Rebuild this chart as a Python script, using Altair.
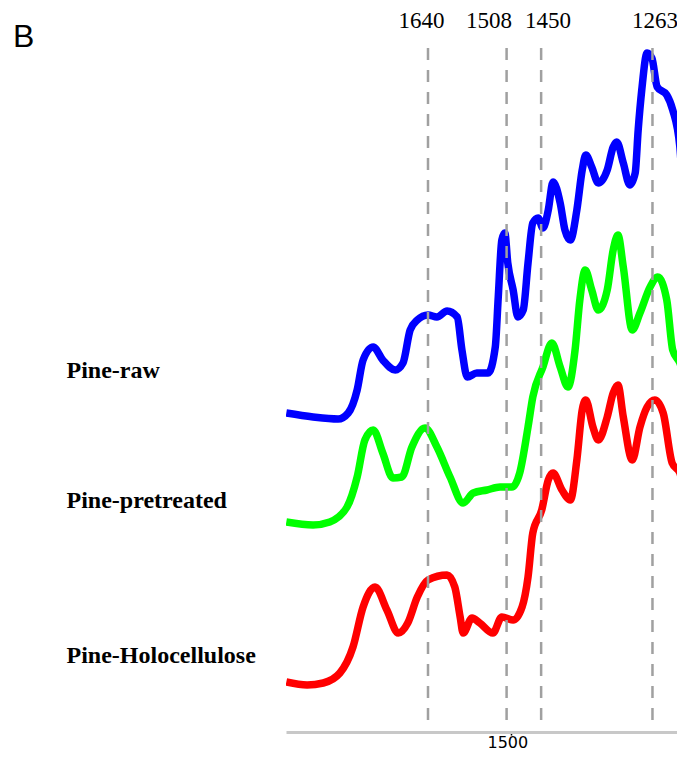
import altair as alt
import pandas as pd

# ---- data (wavenumber cm-1, relative absorbance) ----
sample_names = ["Pine-raw", "Pine-pretreated", "Pine-Holocellulose"]
sample_colors = ["#0000ff", "#00ff00", "#ff0000"]

wn_raw = [1878, 1833, 1791, 1774, 1759, 1749, 1732, 1716, 1695, 1682, 1670, 1658, 1640, 1625,
          1608, 1591, 1583, 1574, 1558, 1539, 1527, 1522, 1516, 1511, 1506, 1497, 1489, 1480,
          1472, 1464, 1455, 1447, 1438, 1430, 1418, 1410, 1401, 1390, 1381, 1375, 1365, 1354,
          1339, 1329, 1323, 1312, 1301, 1292, 1287, 1281, 1272, 1264, 1255, 1239, 1229, 1217,
          1208, 1200]
ab_raw = [3.23, 3.19, 3.17, 3.23, 3.46, 3.76, 3.89, 3.76, 3.66, 3.73, 4.06, 4.16, 4.21, 4.19,
          4.25, 4.19, 3.86, 3.59, 3.63, 3.63, 3.89, 4.39, 4.96, 5.03, 4.73, 4.46, 4.19, 4.26,
          4.73, 5.13, 5.18, 5.08, 5.26, 5.54, 5.33, 5.06, 4.96, 5.26, 5.66, 5.81, 5.69, 5.53,
          5.66, 5.89, 5.94, 5.73, 5.51, 5.63, 6.06, 6.46, 6.83, 6.78, 6.49, 6.41, 6.26, 5.89,
          5.05, 4.70]

wn_pre = [1878, 1833, 1805, 1776, 1759, 1746, 1732, 1716, 1699, 1684, 1667, 1645, 1625, 1603,
          1581, 1564, 1541, 1519, 1499, 1486, 1472, 1464, 1447, 1432, 1418, 1405, 1393, 1385,
          1376, 1365, 1354, 1339, 1329, 1321, 1312, 1297, 1284, 1267, 1254, 1239, 1229, 1217,
          1208, 1200]
ab_pre = [2.14, 2.11, 2.14, 2.29, 2.59, 2.96, 3.06, 2.83, 2.58, 2.59, 2.89, 3.08, 2.89, 2.59,
          2.33, 2.43, 2.46, 2.49, 2.49, 2.63, 3.09, 3.39, 3.69, 3.93, 3.69, 3.49, 3.86, 4.36,
          4.66, 4.46, 4.26, 4.46, 4.86, 5.01, 4.69, 4.06, 4.23, 4.49, 4.59, 4.36, 3.86, 3.73,
          3.56, 3.30]

wn_holo = [1878, 1843, 1816, 1788, 1766, 1749, 1729, 1709, 1690, 1674, 1658, 1640, 1608, 1595,
           1586, 1581, 1566, 1553, 1531, 1516, 1497, 1482, 1472, 1464, 1449, 1438, 1430, 1415,
           1401, 1390, 1381, 1375, 1363, 1354, 1339, 1329, 1321, 1312, 1297, 1284, 1272, 1259,
           1245, 1230, 1217, 1208, 1200]
ab_holo = [0.54, 0.51, 0.53, 0.63, 0.89, 1.29, 1.49, 1.26, 1.03, 1.13, 1.39, 1.56, 1.61, 1.49,
           1.19, 1.03, 1.18, 1.13, 1.03, 1.19, 1.16, 1.29, 1.59, 2.03, 2.26, 2.56, 2.63, 2.46,
           2.36, 2.76, 3.26, 3.36, 3.09, 2.96, 3.19, 3.43, 3.51, 3.19, 2.76, 3.09, 3.29, 3.36,
           3.23, 2.73, 2.63, 2.36, 2.10]

marker_wn = [1640, 1508, 1450, 1263]
marker_labels = ["1640", "1508", "1450", "1263"]
axis_ticks = [1500]

# ---- build tables ----
frames = []
for name, wn, ab in [(sample_names[0], wn_raw, ab_raw),
                     (sample_names[1], wn_pre, ab_pre),
                     (sample_names[2], wn_holo, ab_holo)]:
    frames.append(pd.DataFrame({"wavenumber": wn, "absorbance": ab, "sample": name}))
df = pd.concat(frames, ignore_index=True)
df_markers = pd.DataFrame({"wn": marker_wn, "label": marker_labels})

# ---- layout / style constants ----
W, H = 391, 724
x_scale = alt.Scale(domain=[1221.8, 1878.5], reverse=True, nice=False, zero=False)
y_scale = alt.Scale(domain=[0.04, 7.28], nice=False, zero=False)
label_dx = [-6.5, -17.6, 6.9, 2.5]
name_label_y = [370.3, 500.3, 654.7]   # baselines, px from plot top

lines = alt.Chart(df).mark_line(strokeWidth=7.5, clip=True, interpolate="monotone",
                                strokeJoin="round").encode(
    x=alt.X("wavenumber:Q", scale=x_scale,
            axis=alt.Axis(values=axis_ticks, grid=False, title=None, format="d",
                          domainColor="#c8c8c8", domainWidth=3,
                          tickColor="#000000", tickSize=3, tickWidth=1.5,
                          labelFont="DejaVu Sans", labelFontSize=16, labelColor="#000000",
                          labelPadding=12, labelBaseline="alphabetic", labelOffset=-4)),
    y=alt.Y("absorbance:Q", scale=y_scale, axis=None),
    color=alt.Color("sample:N", scale=alt.Scale(domain=sample_names, range=sample_colors),
                    legend=None),
)

rules = alt.Chart(df_markers).mark_rule(strokeDash=[12, 10], color="#a0a0a0",
                                        strokeWidth=2.5).encode(
    x=alt.X("wn:Q", scale=x_scale),
    y=alt.datum(6.88),
    y2=alt.datum(0.08),
)

layers = [lines, rules]

for i in range(len(df_markers)):
    layers.append(
        alt.Chart(df_markers.iloc[[i]]).mark_text(
            font="Liberation Serif", fontSize=23, color="#000000", align="center",
            baseline="alphabetic", dx=label_dx[i]).encode(
            x=alt.X("wn:Q", scale=x_scale),
            y=alt.datum(7.08),
            text="label:N",
        )
    )

for name, yb in zip(sample_names, name_label_y):
    layers.append(
        alt.Chart(pd.DataFrame({"t": [name]})).mark_text(
            font="Liberation Serif", fontSize=24, fontWeight="bold", color="#000000",
            align="left", baseline="alphabetic").encode(
            x=alt.value(-219.5), y=alt.value(yb), text="t:N")
    )

layers.append(
    alt.Chart(pd.DataFrame({"t": ["B"]})).mark_text(
        font="Liberation Sans", fontSize=32, color="#000000", align="left",
        baseline="alphabetic").encode(x=alt.value(-273), y=alt.value(38.7), text="t:N")
)

chart = alt.layer(*layers).properties(
    width=W, height=H,
    autosize="none",
    padding={"left": 278, "top": 0, "right": 0, "bottom": 19},
    background="white",
).configure_view(stroke=None)

chart.save("out.html", embed_options={"renderer": "svg", "actions": False})
